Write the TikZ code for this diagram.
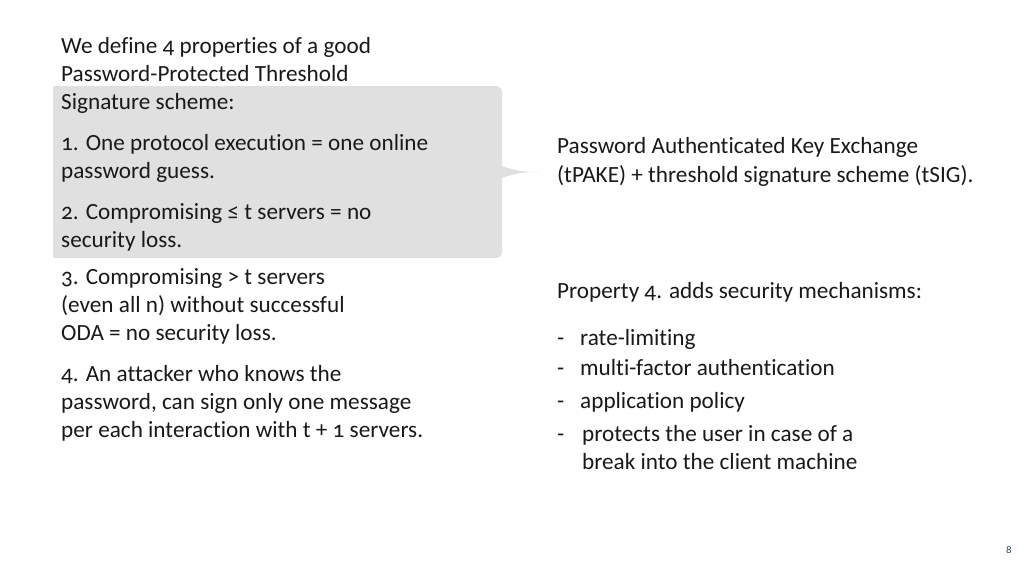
\documentclass[tikz,border=0pt]{standalone}
\usepackage{fontspec}
\setmainfont{Carlito}[Numbers=OldStyle,Ligatures={NoCommon}]
\begin{document}
\begin{tikzpicture}[x=1pt,y=-1pt,
  t/.style={anchor=base west,inner sep=0pt,font=\fontsize{23.2}{24}\selectfont,text=black!90}]
\useasboundingbox (0,0) rectangle (1024,576);
\fill[black!12] (53,86) -- (496,86) to[out=0,in=90] (502,92) -- (502,166)
  to[out=-20,in=180] (540,172) to[out=180,in=20] (502,178) -- (502,252)
  to[out=-90,in=0] (496,258) -- (53,258) -- cycle;
\node[t] (l1) at (61,53) {We define 4 properties of a good};
\node[t] (l2) at (61,81) {Password-Protected Threshold};
\node[t] (l3) at (61,109) {Signature scheme:};
\node[t] (l4) at (61,150) {1. One protocol execution = one online};
\node[t] (l5) at (61,178) {password guess.};
\node[t] (l6) at (61,219) {2. Compromising ≤ t servers = no};
\node[t] (l7) at (61,247) {security loss.};
\node[t] (l8) at (61,284) {3. Compromising > t servers};
\node[t] (l9) at (61,312) {(even all n) without successful};
\node[t] (l10) at (61,340) {ODA = no security loss.};
\node[t] (l11) at (61,381) {4. An attacker who knows the};
\node[t] (l12) at (61,409) {password, can sign only one message};
\node[t] (l13) at (61,437) {per each interaction with t + 1 servers.};
\node[t] (r1) at (557,153) {Password Authenticated Key Exchange};
\node[t] (r2) at (557,182) {(tPAKE) + threshold signature scheme (tSIG).};
\node[t] (r3) at (557,298) {Property 4. adds security mechanisms:};
\node[t] (d1) at (557,345) {-};\node[t] (b1) at (580,345) {rate-limiting};
\node[t] (d2) at (557,375) {-};\node[t] (b2) at (580,375) {multi-factor authentication};
\node[t] (d3) at (557,408) {-};\node[t] (b3) at (580,408) {application policy};
\node[t] (d4) at (557,441) {-};\node[t] (b4) at (582,441) {protects the user in case of a};
\node[t] (b5) at (582,469) {break into the client machine};
\node[anchor=base,inner sep=0pt,font=\fontsize{11}{12}\selectfont,text={rgb,255:red,40;green,70;blue,90}] (pg) at (1009,553) {8};
\end{tikzpicture}
\end{document}
